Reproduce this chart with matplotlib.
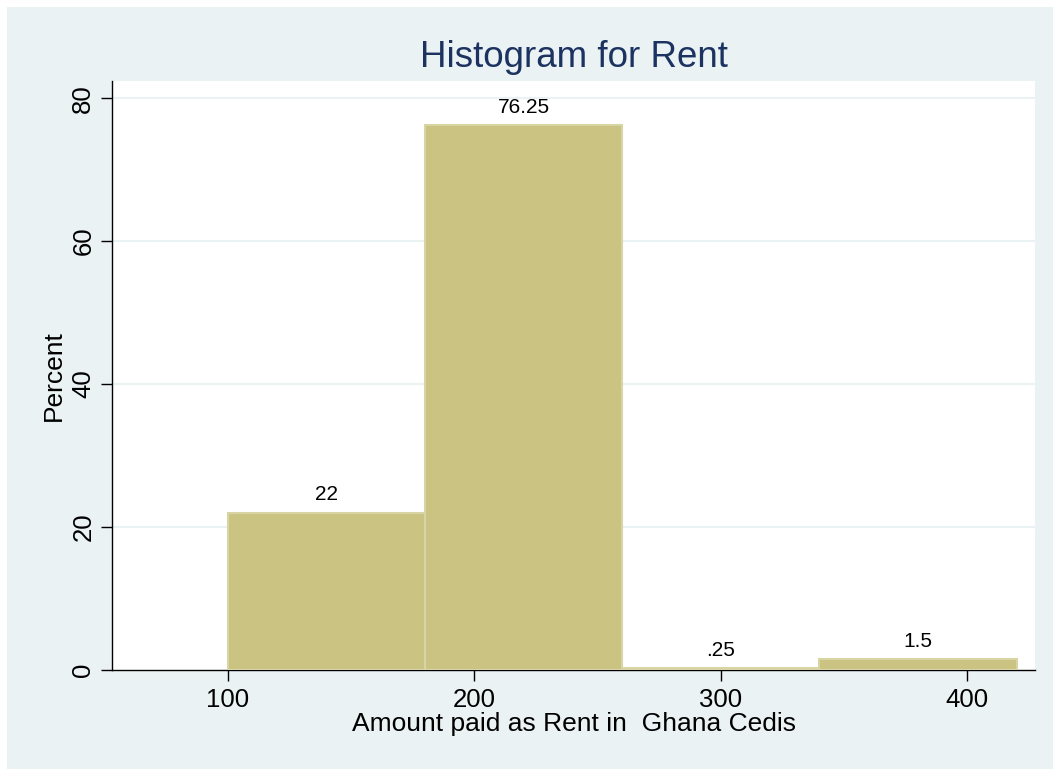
import matplotlib.pyplot as plt
from matplotlib.patches import Rectangle

plt.rcParams['font.family'] = ['Liberation Sans', 'DejaVu Sans']

# Datos del histograma
bin_edges = [100, 180, 260, 340, 420]
percents = [22, 76.25, 0.25, 1.5]
bar_labels = ['22', '76.25', '.25', '1.5']
xticks = [100, 200, 300, 400]
yticks = [0, 20, 40, 60, 80]

bg = '#eaf2f3'
fill = '#cbc382'
edge = '#d9d4a3'

fig = plt.figure(figsize=(10.53, 7.69), dpi=100, facecolor='white')
fig.add_artist(Rectangle((7 / 1053, 0), 1, 1 - 7 / 769, transform=fig.transFigure,
                         facecolor=bg, edgecolor='none', zorder=-10))

ax = fig.add_axes([112 / 1053, 1 - 670 / 769, (1035 - 112) / 1053, (670 - 81) / 769])
ax.set_facecolor('white')

widths = [bin_edges[i + 1] - bin_edges[i] for i in range(len(percents))]
bars = ax.bar(bin_edges[:-1], percents, width=widths, align='edge',
              color=fill, edgecolor=edge, linewidth=1.5, zorder=3)

for b, lab in zip(bars, bar_labels):
    ax.annotate(lab, (b.get_x() + b.get_width() / 2, b.get_height()),
                xytext=(0, 6), textcoords='offset points',
                ha='center', va='bottom', fontsize=15, color='black')

ax.set_xlim(53, 427.5)
ax.set_ylim(0, 82.4)
ax.set_xticks(xticks)
ax.set_yticks(yticks)
ax.set_yticklabels([str(v) for v in yticks], rotation=90, va='center')
ax.tick_params(axis='both', direction='out', length=8, width=1, labelsize=18.5, colors='black')
ax.tick_params(axis='x', pad=5)
ax.tick_params(axis='y', pad=4)

for v in yticks[1:]:
    ax.axhline(v, color=bg, linewidth=1.5, zorder=1)

ax.spines['top'].set_visible(False)
ax.spines['right'].set_visible(False)
ax.spines['left'].set_linewidth(1)
ax.spines['bottom'].set_linewidth(1)

ax.set_xlabel('Amount paid as Rent in  Ghana Cedis', fontsize=19, labelpad=0)
ax.set_ylabel('Percent', fontsize=19, labelpad=4)
ax.set_title('Histogram for Rent', fontsize=26.5, color='#1c3361', pad=10)

fig.savefig('out.png', dpi=100, facecolor=fig.get_facecolor())
